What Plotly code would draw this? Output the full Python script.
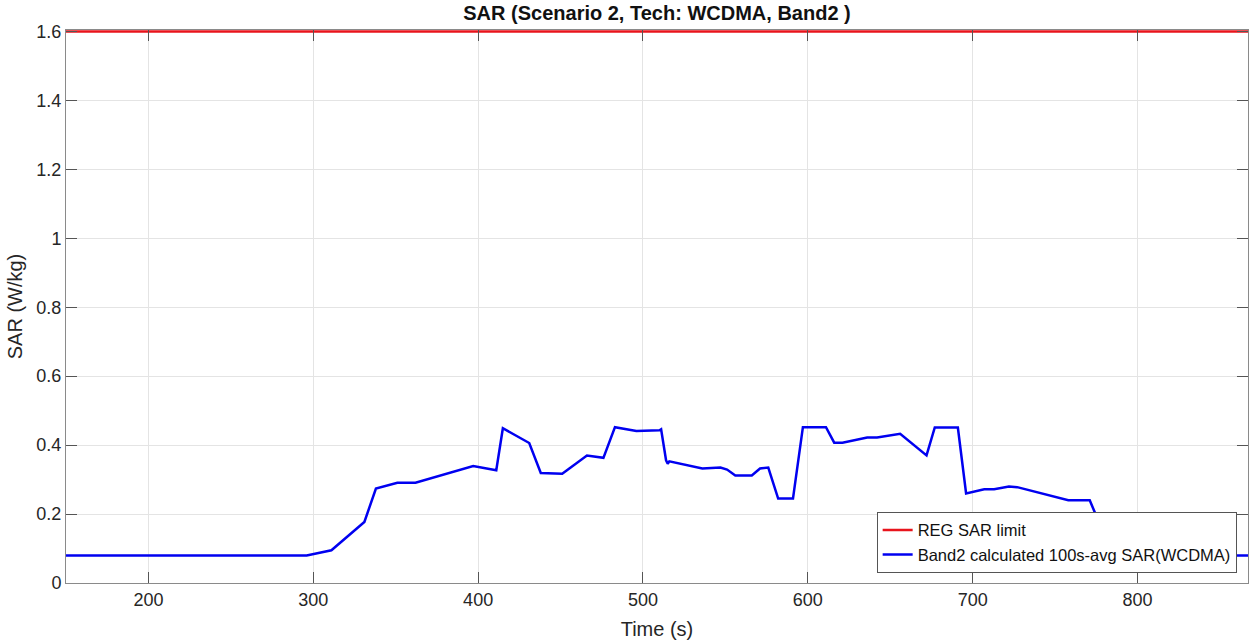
import plotly.graph_objects as go

# ---- data ----
time_s = [150, 296, 311, 331, 338, 351, 362, 397, 411, 415, 431, 438, 451, 466, 476,
          483, 496, 510, 511, 514, 515, 516, 536, 547, 551, 556, 566, 571, 576, 582,
          591, 597, 611, 616, 621, 636, 642, 656, 672, 677, 691, 696, 707, 713, 722,
          727, 758, 771, 785, 867]
sar_avg = [0.08, 0.08, 0.095, 0.177, 0.274, 0.291, 0.291, 0.339, 0.327, 0.449, 0.406,
           0.319, 0.317, 0.370, 0.363, 0.452, 0.441, 0.443, 0.446, 0.356, 0.346, 0.353,
           0.332, 0.335, 0.329, 0.312, 0.312, 0.332, 0.335, 0.245, 0.245, 0.452, 0.452,
           0.407, 0.407, 0.422, 0.422, 0.433, 0.370, 0.451, 0.451, 0.260, 0.272, 0.272,
           0.280, 0.278, 0.240, 0.240, 0.08, 0.08]
limit_time = [150, 867]
limit_sar = [1.6, 1.6]

x_ticks = [200, 300, 400, 500, 600, 700, 800]
y_ticks = [0, 0.2, 0.4, 0.6, 0.8, 1.0, 1.2, 1.4, 1.6]
y_tick_labels = ["0", "0.2", "0.4", "0.6", "0.8", "1", "1.2", "1.4", "1.6"]

FONT = "Liberation Sans, Arial, Helvetica, sans-serif"
TXT = "#262626"

fig = go.Figure()
fig.add_trace(go.Scatter(x=limit_time, y=limit_sar, mode="lines",
                         line=dict(color="#e8141c", width=2.5),
                         name="REG SAR limit"))
fig.add_trace(go.Scatter(x=time_s, y=sar_avg, mode="lines",
                         line=dict(color="#0000f0", width=2.5),
                         name="Band2 calculated 100s-avg SAR(WCDMA)"))

axis_common = dict(showline=True, linecolor="#8a8a8a", linewidth=1, mirror="ticks",
                   ticks="inside", ticklen=11, tickcolor="#555555", tickwidth=1,
                   showgrid=True, gridcolor="#e4e4e4", gridwidth=1, zeroline=False,
                   tickfont=dict(family=FONT, size=18, color=TXT))

W, H = 1250, 644
fig.update_layout(
    width=W, height=H,
    margin=dict(l=66, r=2, t=30, b=61),
    paper_bgcolor="white", plot_bgcolor="white",
    title=dict(text="<b>SAR (Scenario 2, Tech: WCDMA, Band2 )</b>",
               x=(66 + 1248) / 2 / W, xanchor="center", y=1 - 13 / H, yanchor="middle",
               font=dict(family=FONT, size=20, color="#111111")),
    xaxis=dict(range=[150, 867], tickvals=x_ticks,
               title=dict(text="Time (s)", font=dict(family=FONT, size=20, color=TXT), standoff=13),
               **axis_common),
    yaxis=dict(range=[0, 1.604], tickvals=y_ticks, ticktext=y_tick_labels,
               title=dict(text="SAR (W/kg)", font=dict(family=FONT, size=20, color=TXT), standoff=8),
               **axis_common),
    legend=dict(x=0.9904, y=0.0186, xanchor="right", yanchor="bottom",
                bgcolor="white", bordercolor="#555555", borderwidth=1,
                font=dict(family=FONT, size=16.5, color="#111111"),
                tracegroupgap=0, itemwidth=30),
    showlegend=True,
)

# remove the browser's default 8px body margin so the figure fills the window
fig.write_html("out.html", config={"displayModeBar": False},
               post_script="document.body.style.margin='0';")
